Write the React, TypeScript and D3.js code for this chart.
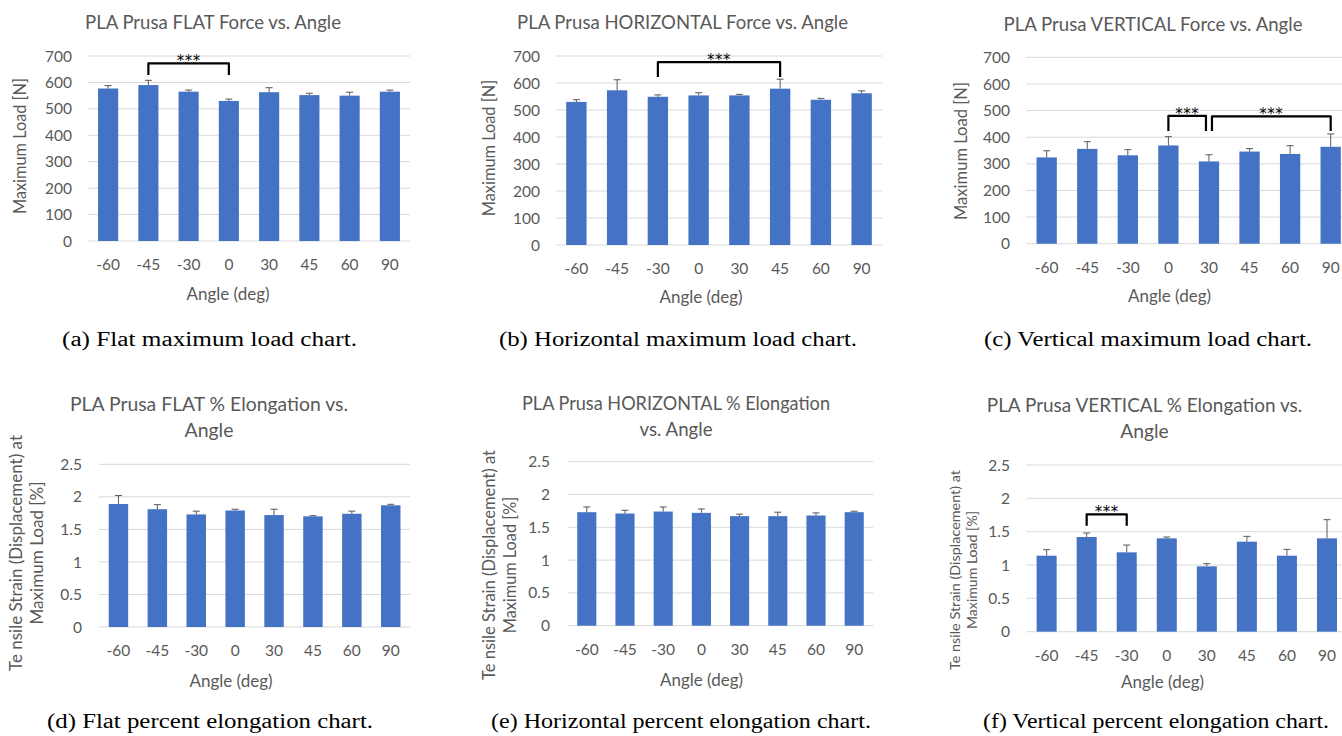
import React, { useEffect, useRef } from "react";
import * as d3 from "d3";

const angles = ["-60", "-45", "-30", "0", "30", "45", "60", "90"];

const flatLoad = [577, 590, 565, 530, 563, 552, 550, 565];
const flatLoadErr = [11, 18, 6, 7, 17, 7, 13, 6];
const horizLoad = [530, 573, 549, 554, 554, 579, 538, 562];
const horizLoadErr = [8, 39, 7, 10, 4, 35, 5, 9];
const vertLoad = [324, 356, 332, 369, 309, 346, 337, 364];
const vertLoadErr = [25, 27, 21, 33, 25, 11, 31, 48];

const flatStrain = [1.89, 1.81, 1.73, 1.79, 1.72, 1.7, 1.74, 1.87];
const flatStrainErr = [0.13, 0.07, 0.05, 0.02, 0.09, 0.01, 0.04, 0.015];
const horizStrain = [1.73, 1.71, 1.74, 1.72, 1.67, 1.67, 1.68, 1.73];
const horizStrainErr = [0.08, 0.05, 0.07, 0.06, 0.03, 0.06, 0.04, 0.015];
const vertStrain = [1.14, 1.42, 1.19, 1.4, 0.98, 1.35, 1.14, 1.4];
const vertStrainErr = [0.09, 0.06, 0.11, 0.02, 0.04, 0.08, 0.095, 0.28];

const loadTicks = [0, 100, 200, 300, 400, 500, 600, 700];
const strainTicks = [0, 0.5, 1, 1.5, 2, 2.5];

// significance brackets: from, to, top value, foot value
const flatLoadSig = [{ from: "-45", to: "0", top: 672, foot: 628 }];
const horizLoadSig = [{ from: "-30", to: "45", top: 677, foot: 622 }];
const vertLoadSig = [
  { from: "0", to: "30", top: 480, foot: 423 },
  { from: "30", to: "90", top: 478, foot: 423 },
];
const vertStrainSig = [{ from: "-45", to: "-30", top: 1.76, foot: 1.59 }];

const loadTitle = "Maximum Load [N]";
const strainTitle = ["Te nsile Strain (Displacement) at", "Maximum Load [%]"];

const FONT = "Lato, 'Open Sans', sans-serif";
const GRAY = "#595959";
const BLUE = "#4472C4";

const panels = [
  {
    values: flatLoad, errs: flatLoadErr, ticks: loadTicks, sig: flatLoadSig,
    left: 88, step: 40.25, top: 56, bottom: 241, tickRight: 72,
    title: ["PLA Prusa FLAT Force vs. Angle"], titleW: [256], titleX: 213, titleY: 29,
    yTitle: [loadTitle], yTitleW: [136], yTitleX: [20.5], yTitleY: 146, yTitleSize: 17,
    xLabY: 270, xTitleX: 228, xTitleY: 300,
    caption: "(a) Flat maximum load chart.", capX: 209.5, capY: 346, capW: 295,
  },
  {
    values: horizLoad, errs: horizLoadErr, ticks: loadTicks, sig: horizLoadSig,
    left: 556, step: 40.75, top: 56, bottom: 245, tickRight: 540,
    title: ["PLA Prusa HORIZONTAL Force vs. Angle"], titleW: [331], titleX: 682.5, titleY: 29,
    yTitle: [loadTitle], yTitleW: [136.5], yTitleX: [489], yTitleY: 148, yTitleSize: 17,
    xLabY: 274, xTitleX: 701, xTitleY: 303,
    caption: "(b) Horizontal maximum load chart.", capX: 678, capY: 346, capW: 358,
  },
  {
    values: vertLoad, errs: vertLoadErr, ticks: loadTicks, sig: vertLoadSig,
    left: 1026.4, step: 40.57, top: 57.3, bottom: 243.7, tickRight: 1010,
    title: ["PLA Prusa VERTICAL Force vs. Angle"], titleW: [299], titleX: 1153, titleY: 31,
    yTitle: [loadTitle], yTitleW: [138], yTitleX: [961.5], yTitleY: 151, yTitleSize: 17,
    xLabY: 273, xTitleX: 1169.5, xTitleY: 302,
    caption: "(c) Vertical maximum load chart.", capX: 1148, capY: 346, capW: 328,
  },
  {
    values: flatStrain, errs: flatStrainErr, ticks: strainTicks, sig: [],
    left: 99, step: 38.9, top: 464.3, bottom: 627, tickRight: 82,
    title: ["PLA Prusa FLAT % Elongation vs.", "Angle"], titleW: [278, 49], titleX: 209, titleY: 411,
    yTitle: strainTitle, yTitleW: [236, 143], yTitleX: [15.8, 37.5], yTitleY: 553, yTitleSize: 17,
    xLabY: 656, xTitleX: 231, xTitleY: 687,
    caption: "(d) Flat percent elongation chart.", capX: 210, capY: 728, capW: 326,
  },
  {
    values: horizStrain, errs: horizStrainErr, ticks: strainTicks, sig: [],
    left: 567.7, step: 38.2, top: 461.7, bottom: 625.7, tickRight: 550,
    title: ["PLA Prusa HORIZONTAL % Elongation", "vs. Angle"], titleW: [308, 73], titleX: 676, titleY: 410,
    yTitle: strainTitle, yTitleW: [230, 136.5], yTitleX: [489, 510], yTitleY: 565, yTitleSize: 17,
    xLabY: 655, xTitleX: 701.5, xTitleY: 686,
    caption: "(e) Horizontal percent elongation chart.", capX: 681, capY: 728, capW: 380,
  },
  {
    values: vertStrain, errs: vertStrainErr, ticks: strainTicks, sig: vertStrainSig,
    left: 1026.6, step: 40.05, top: 465, bottom: 631.7, tickRight: 1010,
    title: ["PLA Prusa VERTICAL % Elongation vs.", "Angle"], titleW: [315.5, 48.5], titleX: 1144.5, titleY: 412,
    yTitle: strainTitle, yTitleW: [200, 118], yTitleX: [955, 972.5], yTitleY: 570, yTitleSize: 14,
    xLabY: 661, xTitleX: 1162.5, xTitleY: 688,
    caption: "(f) Vertical percent elongation chart.", capX: 1156, capY: 728, capW: 346,
  },
];

function drawPanel(svg: any, p: any) {
  const g = svg.append("g");

  const x = d3.scaleBand()
    .domain(angles)
    .range([p.left, p.left + p.step * angles.length])
    .paddingInner(0.5)
    .paddingOuter(0.25);

  const y = d3.scaleLinear()
    .domain([0, d3.max(p.ticks) as number])
    .range([p.bottom, p.top]);

  const [x0, x1] = x.range();

  // gridlines
  g.selectAll(".grid").data(p.ticks).join("line")
    .attr("x1", x0).attr("x2", x1)
    .attr("y1", (d: number) => y(d)).attr("y2", (d: number) => y(d))
    .attr("stroke", "#d9d9d9").attr("stroke-width", 1);

  // y tick labels
  g.selectAll(".ytick").data(p.ticks).join("text")
    .attr("x", p.tickRight)
    .attr("y", (d: number) => y(d))
    .attr("dy", "0.36em")
    .attr("text-anchor", "end")
    .attr("font-family", FONT).attr("font-size", 15.5).attr("fill", GRAY)
    .text((d: number) => String(d));

  const rows = angles.map((a, i) => ({ a, v: p.values[i], e: p.errs[i] }));

  // bars
  g.selectAll(".bar").data(rows).join("rect")
    .attr("x", (d: any) => x(d.a))
    .attr("y", (d: any) => y(d.v))
    .attr("width", x.bandwidth())
    .attr("height", (d: any) => y(0) - y(d.v))
    .attr("fill", BLUE);

  // error bars (plus only)
  const cx = (a: string) => (x(a) as number) + x.bandwidth() / 2;
  g.selectAll(".err").data(rows).join("line")
    .attr("x1", (d: any) => cx(d.a)).attr("x2", (d: any) => cx(d.a))
    .attr("y1", (d: any) => y(d.v)).attr("y2", (d: any) => y(d.v + d.e))
    .attr("stroke", GRAY).attr("stroke-width", 1);
  g.selectAll(".cap").data(rows).join("line")
    .attr("x1", (d: any) => cx(d.a) - 3.5).attr("x2", (d: any) => cx(d.a) + 3.5)
    .attr("y1", (d: any) => y(d.v + d.e)).attr("y2", (d: any) => y(d.v + d.e))
    .attr("stroke", GRAY).attr("stroke-width", 1);

  // x tick labels
  g.selectAll(".xtick").data(angles).join("text")
    .attr("x", (d: string) => cx(d))
    .attr("y", p.xLabY)
    .attr("text-anchor", "middle")
    .attr("font-family", FONT).attr("font-size", 15.5).attr("fill", GRAY)
    .text((d: string) => d);

  // axis titles
  g.append("text")
    .attr("x", p.xTitleX).attr("y", p.xTitleY)
    .attr("text-anchor", "middle")
    .attr("font-family", FONT).attr("font-size", 17).attr("fill", GRAY)
    .text("Angle (deg)");

  p.yTitle.forEach((t: string, i: number) => {
    g.append("text")
      .attr("transform", `translate(${p.yTitleX[i]},${p.yTitleY}) rotate(-90)`)
      .attr("dy", "0.35em")
      .attr("text-anchor", "middle")
      .attr("font-family", FONT).attr("font-size", p.yTitleSize).attr("fill", GRAY)
      .attr("textLength", p.yTitleW[i]).attr("lengthAdjust", "spacingAndGlyphs")
      .text(t);
  });

  // chart title
  p.title.forEach((t: string, i: number) => {
    g.append("text")
      .attr("x", p.titleX).attr("y", p.titleY + i * 26)
      .attr("text-anchor", "middle")
      .attr("font-family", FONT).attr("font-size", 18.7).attr("fill", GRAY)
      .attr("textLength", p.titleW[i]).attr("lengthAdjust", "spacingAndGlyphs")
      .text(t);
  });

  // significance brackets
  p.sig.forEach((s: any) => {
    const shared = (a: string) => p.sig.some((o: any) => o !== s && (o.from === a || o.to === a));
    const bx1 = cx(s.from) + (shared(s.from) ? 3 : 0);
    const bx2 = cx(s.to) - (shared(s.to) ? 3 : 0);
    const path = d3.path();
    path.moveTo(bx1, y(s.foot));
    path.lineTo(bx1, y(s.top));
    path.lineTo(bx2, y(s.top));
    path.lineTo(bx2, y(s.foot));
    g.append("path")
      .attr("d", path.toString())
      .attr("fill", "none").attr("stroke", "#000").attr("stroke-width", 2.2)
      .attr("stroke-linejoin", "round");
    g.append("text")
      .attr("x", (bx1 + bx2) / 2).attr("y", y(s.top) + 3)
      .attr("text-anchor", "middle")
      .attr("font-family", "'DejaVu Sans', sans-serif").attr("font-size", 15).attr("fill", "#000")
      .attr("letter-spacing", 0.5)
      .text("***");
  });

  // caption
  svg.append("text")
    .attr("x", p.capX).attr("y", p.capY)
    .attr("text-anchor", "middle")
    .attr("font-family", "'Liberation Serif', 'Times New Roman', serif").attr("font-size", 20).attr("fill", "#000")
    .attr("textLength", p.capW).attr("lengthAdjust", "spacingAndGlyphs")
    .text(p.caption);
}

export default function App() {
  const ref = useRef<SVGSVGElement>(null);

  useEffect(() => {
    const svg = d3.select(ref.current);
    svg.selectAll("*").remove();
    panels.forEach(p => drawPanel(svg, p));
  }, []);

  return (
    <svg
      ref={ref}
      width={1342}
      height={736}
      style={{ position: "absolute", left: 0, top: 0, background: "#fff" }}
    />
  );
}
